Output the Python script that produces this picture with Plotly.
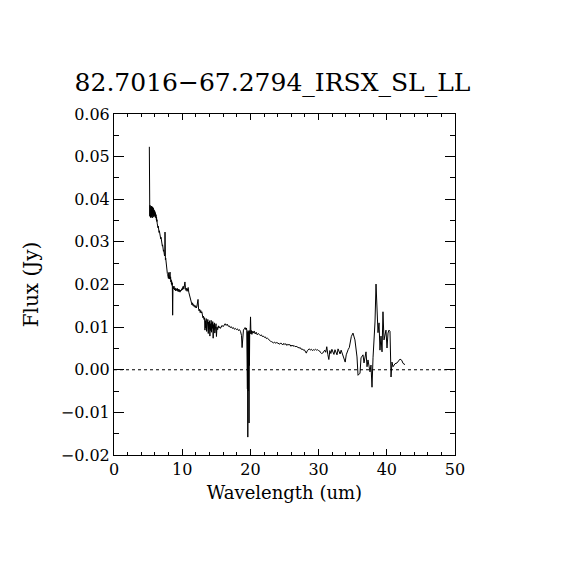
import plotly.graph_objects as go

# Wavelength (um) and flux (Jy)
wl_sl2 = [5.18, 5.19, 5.22, 5.25, 5.28, 5.31, 5.34, 5.37, 5.40, 5.43, 5.46, 5.49, 5.52, 5.55,
          5.58, 5.61, 5.64, 5.67, 5.70, 5.73, 5.76, 5.79, 5.82, 5.85, 5.88, 5.91, 5.94, 5.97,
          6.00, 6.03, 6.06, 6.09, 6.12, 6.15, 6.18, 6.21, 6.24, 6.27, 6.30, 6.33,
          6.37, 6.41, 6.45, 6.49, 6.53, 6.57, 6.61, 6.65, 6.69, 6.73, 6.77, 6.81, 6.85, 6.89,
          6.93, 6.97, 7.01, 7.05, 7.09, 7.13, 7.17, 7.21, 7.25, 7.29, 7.33, 7.37, 7.41, 7.45,
          7.48, 7.50, 7.54, 7.58]
fx_sl2 = [0.0523, 0.0372, 0.0384, 0.0360, 0.0386, 0.0366, 0.0381, 0.0357, 0.0383, 0.0364,
          0.0379, 0.0359, 0.0384, 0.0362, 0.0378, 0.0356, 0.0382, 0.0365, 0.0377, 0.0360,
          0.0380, 0.0363, 0.0376, 0.0358, 0.0374, 0.0366, 0.0373, 0.0361, 0.0371, 0.0363,
          0.0368, 0.0357, 0.0365, 0.0360, 0.0362, 0.0352, 0.0358, 0.0348, 0.0352, 0.0344,
          0.0338, 0.0343, 0.0333, 0.0337, 0.0328, 0.0332, 0.0322, 0.0326, 0.0318, 0.0321,
          0.0312, 0.0316, 0.0307, 0.0311, 0.0302, 0.0305, 0.0296, 0.0299, 0.0290, 0.0293,
          0.0283, 0.0287, 0.0278, 0.0281, 0.0272, 0.0275, 0.0267, 0.0270, 0.0323, 0.0262,
          0.0258, 0.0262]

wl_sl1 = [7.62, 7.66, 7.70, 7.74, 7.78, 7.82, 7.86, 7.90, 7.94, 7.98, 8.02, 8.06, 8.10, 8.14,
          8.18, 8.22, 8.26, 8.30, 8.34, 8.38, 8.42, 8.46, 8.50, 8.55, 8.60, 8.65,
          8.72, 8.80, 8.88, 8.96, 9.04, 9.12, 9.20, 9.28, 9.36, 9.44, 9.52, 9.60, 9.68, 9.76,
          9.84, 9.92, 10.00, 10.08, 10.16, 10.24, 10.32, 10.40, 10.48, 10.56, 10.64, 10.72,
          10.80, 10.88, 10.96, 11.04, 11.12, 11.20, 11.28, 11.36, 11.44, 11.52, 11.60, 11.68,
          11.76, 11.84, 11.92, 12.00, 12.08, 12.16, 12.24, 12.32, 12.40, 12.48, 12.56, 12.64,
          12.72, 12.80, 12.88, 12.96, 13.04, 13.12, 13.20, 13.28,
          13.34, 13.40, 13.46, 13.52, 13.58, 13.64, 13.70, 13.76, 13.82, 13.88, 13.94, 14.00,
          14.06, 14.12, 14.18, 14.24, 14.30]
fx_sl1 = [0.0252, 0.0247, 0.0241, 0.0236, 0.0233, 0.0226, 0.0224, 0.0218, 0.0221, 0.0214,
          0.0228, 0.0219, 0.0226, 0.0213, 0.0224, 0.0229, 0.0212, 0.0218, 0.0206, 0.0211,
          0.0201, 0.0207, 0.0198, 0.0204, 0.0128, 0.0196,
          0.0190, 0.0196, 0.0187, 0.0192, 0.0185, 0.0190, 0.0186, 0.0191, 0.0184, 0.0189,
          0.0183, 0.0188, 0.0182, 0.0187, 0.0185, 0.0190, 0.0187, 0.0194, 0.0196, 0.0189,
          0.0202, 0.0206, 0.0192, 0.0186, 0.0191, 0.0184, 0.0190, 0.0193, 0.0182, 0.0176,
          0.0168, 0.0170, 0.0160, 0.0154, 0.0152, 0.0157, 0.0150, 0.0153, 0.0148, 0.0151,
          0.0146, 0.0150, 0.0145, 0.0149, 0.0160, 0.0165, 0.0142, 0.0138, 0.0142, 0.0134,
          0.0139, 0.0133, 0.0136, 0.0128, 0.0122, 0.0126, 0.0118, 0.0122,
          0.0093, 0.0115, 0.0098, 0.0120, 0.0090, 0.0110, 0.0102, 0.0118, 0.0085, 0.0112,
          0.0095, 0.0115, 0.0079, 0.0108, 0.0092, 0.0116, 0.0088]

wl_ll2 = [14.36, 14.42, 14.48, 14.54, 14.60, 14.66, 14.72, 14.78, 14.84, 14.90, 14.96, 15.02,
          15.10, 15.20, 15.30, 15.40, 15.50, 15.60, 15.70, 15.85, 16.00, 16.15, 16.30, 16.45,
          16.60, 16.75, 16.90, 17.05, 17.20, 17.35, 17.50, 17.65, 17.80, 17.95, 18.10, 18.25,
          18.40, 18.55, 18.70, 18.78, 18.86, 18.98, 19.10, 19.22, 19.34, 19.42,
          19.46, 19.50, 19.53, 19.56, 19.59, 19.62, 19.65, 19.68, 19.71, 19.74, 19.77, 19.80,
          19.83, 19.86, 19.90, 19.95, 20.02, 20.08, 20.15, 20.22, 20.30]
fx_ll2 = [0.0110, 0.0097, 0.0113, 0.0074, 0.0106, 0.0094, 0.0110, 0.0086, 0.0104, 0.0096,
          0.0108, 0.0078, 0.0100, 0.0094, 0.0103, 0.0098, 0.0101, 0.0097, 0.0100, 0.0104,
          0.0101, 0.0106, 0.0108, 0.0104, 0.0107, 0.0102, 0.0103, 0.0099, 0.0101, 0.0097,
          0.0099, 0.0095, 0.0097, 0.0094, 0.0096, 0.0092, 0.0094, 0.0090, 0.0080, 0.0052,
          0.0088, 0.0093, 0.0096, 0.0099, 0.0094, 0.0098,
          0.0093, -0.0020, 0.0090, -0.0045, 0.0088, -0.0158, 0.0092, -0.0050, 0.0086, -0.0030,
          0.0090, -0.0125, 0.0089, 0.0010, 0.0092, 0.0085, 0.0124, 0.0084, 0.0092, 0.0083,
          0.0090]

wl_ll1 = [20.40, 20.55, 20.70, 20.85, 21.00, 21.15, 21.30, 21.45, 21.60, 21.75, 21.90, 22.05,
          22.20, 22.35, 22.50, 22.65, 22.80, 22.95, 23.10, 23.25, 23.40, 23.55, 23.70, 23.85,
          24.00, 24.15, 24.30, 24.45, 24.60, 24.75, 24.90, 25.05, 25.20, 25.35, 25.50, 25.65,
          25.80, 25.95, 26.10, 26.25, 26.40, 26.55, 26.70, 26.85, 27.00, 27.15, 27.30, 27.45,
          27.60, 27.75, 27.90, 28.05, 28.20, 28.35, 28.50, 28.65, 28.80, 28.95, 29.10, 29.25,
          29.40, 29.55, 29.70, 29.85, 30.00, 30.15, 30.30, 30.45, 30.60, 30.75, 30.90, 31.05,
          31.20, 31.35, 31.50, 31.65, 31.80, 31.95, 32.10, 32.25, 32.40, 32.55, 32.70, 32.85,
          33.00, 33.15, 33.30, 33.45, 33.60, 33.75, 33.90, 34.05, 34.20, 34.35, 34.50, 34.65,
          34.80, 35.04, 35.33, 35.63, 35.78, 36.07, 36.22, 36.51, 36.66, 36.95, 37.10, 37.24,
          37.54, 37.68, 37.83, 37.98, 38.27, 38.42, 38.56, 38.71, 38.86, 39.00, 39.15, 39.30,
          39.44, 39.59, 39.88, 40.03, 40.18, 40.32, 40.47, 40.62, 40.76, 40.91, 41.20, 41.50,
          41.94, 42.20, 42.38, 42.67]
fx_ll1 = [0.0086, 0.0091, 0.0084, 0.0088, 0.0082, 0.0085, 0.0083, 0.0080, 0.0082, 0.0078,
          0.0079, 0.0076, 0.0077, 0.0073, 0.0074, 0.0071, 0.0069, 0.0067, 0.0066, 0.0065,
          0.0063, 0.0065, 0.0062, 0.0064, 0.0063, 0.0062, 0.0060, 0.0063, 0.0061, 0.0058,
          0.0062, 0.0059, 0.0061, 0.0057, 0.0060, 0.0058, 0.0059, 0.0055, 0.0058, 0.0055,
          0.0057, 0.0054, 0.0055, 0.0053, 0.0053, 0.0051, 0.0052, 0.0048, 0.0049, 0.0046,
          0.0047, 0.0043, 0.0039, 0.0045, 0.0047, 0.0049, 0.0046, 0.0048, 0.0045, 0.0047,
          0.0046, 0.0048, 0.0046, 0.0047, 0.0045, 0.0044, 0.0040, 0.0038, 0.0039, 0.0043,
          0.0046, 0.0041, 0.0054, 0.0036, 0.0024, 0.0045, 0.0038, 0.0048, 0.0042, 0.0036,
          0.0047, 0.0041, 0.0035, 0.0049, 0.0043, 0.0037, 0.0046, 0.0040, 0.0031, 0.0028,
          0.0018, 0.0035, 0.0044, 0.0048, 0.0052, 0.0064, 0.0078,
          0.0086, 0.0070, 0.0030, -0.0013, -0.0008, 0.0028, 0.0035, 0.0016, 0.0042, 0.0007,
          0.0023, -0.0005, 0.0011, -0.0041, 0.0028, 0.0112, 0.0201, 0.0157, 0.0087, 0.0110,
          0.0046, 0.0079, 0.0042, 0.0136, 0.0070, 0.0093, 0.0051, 0.0086, 0.0093, 0.0090,
          -0.0017, 0.0018, 0.0007, 0.0014, 0.0016, 0.0025, 0.0022, 0.0015, 0.0012]

wavelength = wl_sl2 + wl_sl1 + wl_ll2 + wl_ll1
flux = fx_sl2 + fx_sl1 + fx_ll2 + fx_ll1

title_text = "82.7016\u221267.2794_IRSX_SL_LL"
x_title = "Wavelength (um)"
y_title = "Flux (Jy)"
x_range = [0, 50]
y_range = [-0.02, 0.06]

FONT = "DejaVu Serif"

fig = go.Figure()
fig.add_trace(go.Scatter(x=wavelength, y=flux, mode="lines",
                         line=dict(color="black", width=1), hoverinfo="skip",
                         showlegend=False))
fig.add_shape(type="line", x0=x_range[0], x1=x_range[1], y0=0, y1=0, xref="x", yref="y",
              line=dict(color="black", width=1, dash="dot"))

fig.update_layout(
    width=570, height=570,
    paper_bgcolor="white", plot_bgcolor="white",
    margin=dict(l=106, r=123, t=106, b=123, autoexpand=False),
    font=dict(family=FONT, color="black", size=16),
    title=dict(text=title_text, x=264.5 / 570, xanchor="center", y=1 - 74 / 570,
               yanchor="middle", yref="container",
               font=dict(family=FONT, size=25, color="black")),
    xaxis=dict(range=x_range, tickvals=[0, 10, 20, 30, 40, 50], ticks="inside",
               ticklen=6, tickwidth=1, tickcolor="black", showline=True, linecolor="black",
               linewidth=1, mirror="ticks", showgrid=False, zeroline=False,
               automargin=False, tickfont=dict(family=FONT, size=16),
               minor=dict(dtick=2, tick0=0, ticks="inside", ticklen=3, tickcolor="black",
                          showgrid=False),
               title=dict(text=x_title, standoff=8, font=dict(family=FONT, size=18))),
    yaxis=dict(range=y_range, tickvals=[-0.02, -0.01, 0.0, 0.01, 0.02, 0.03, 0.04, 0.05, 0.06],
               ticktext=["\u22120.02", "\u22120.01", "0.00", "0.01", "0.02", "0.03", "0.04",
                         "0.05", "0.06"],
               ticks="inside", ticklen=10, tickwidth=1, tickcolor="black", showline=True,
               linecolor="black", linewidth=1, mirror="ticks", showgrid=False,
               zeroline=False, automargin=False, tickfont=dict(family=FONT, size=16),
               minor=dict(dtick=0.005, tick0=0, ticks="inside", ticklen=5,
                          tickcolor="black", showgrid=False),
               title=dict(text=y_title, standoff=16, font=dict(family=FONT, size=20))),
)

fig.write_html("out.html")
